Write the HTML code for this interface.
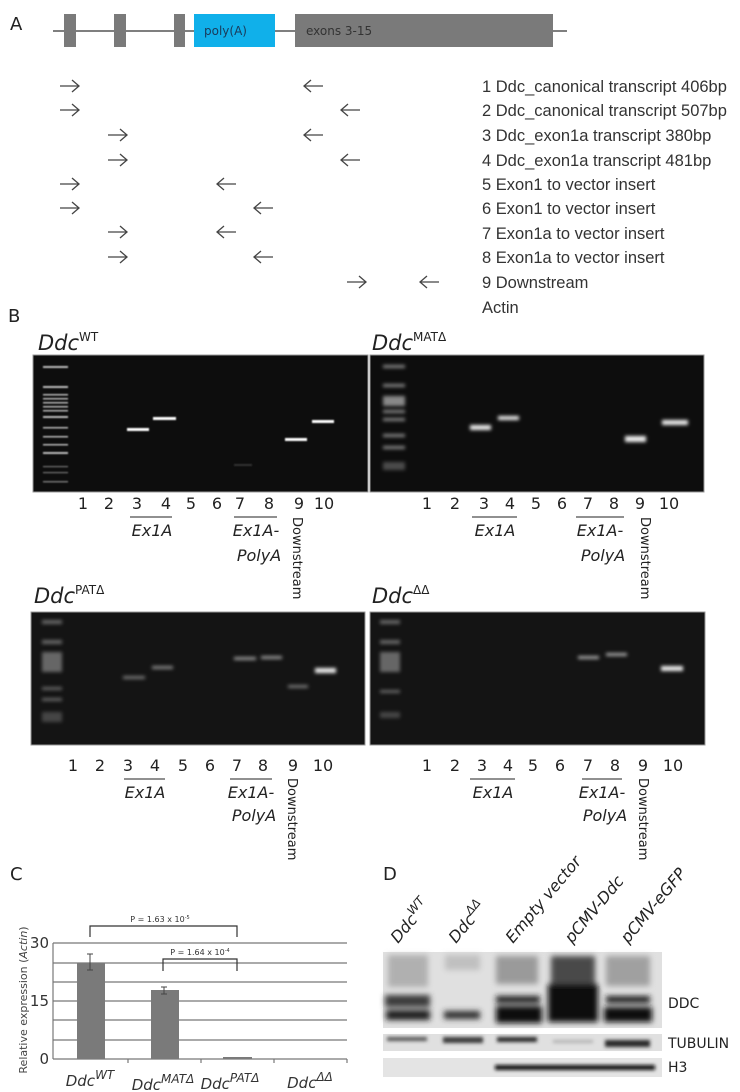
<!DOCTYPE html>
<html><head><meta charset="utf-8"><style>
html,body{margin:0;padding:0;background:#fff;}
svg{display:block;}
text{font-family:"DejaVu Sans","Liberation Sans",sans-serif;}
.lab{font-family:"Liberation Sans",sans-serif;font-size:16.5px;fill:#333;}
.num{font-size:16px;fill:#222;}
.it{font-style:italic;}
</style></head><body>
<svg width="740" height="1092" viewBox="0 0 740 1092" xmlns="http://www.w3.org/2000/svg">
<defs>
<filter id="b1" x="-20%" y="-100%" width="140%" height="300%"><feGaussianBlur stdDeviation="0.9"/></filter>
<filter id="b2" x="-20%" y="-100%" width="140%" height="300%"><feGaussianBlur stdDeviation="1.8"/></filter>
<filter id="b3" x="-30%" y="-60%" width="160%" height="220%"><feGaussianBlur stdDeviation="3"/></filter>
<g id="ar"><line x1="0" y1="0" x2="19" y2="0" stroke="#444" stroke-width="1.3"/><polyline points="12,-6 19,0 12,6" fill="none" stroke="#444" stroke-width="1.3"/></g>
<g id="al"><line x1="0" y1="0" x2="19" y2="0" stroke="#444" stroke-width="1.3"/><polyline points="7,-6 0,0 7,6" fill="none" stroke="#444" stroke-width="1.3"/></g>
</defs>

<!-- Panel A -->
<text x="10" y="30" font-family="Liberation Sans" font-size="18" fill="#222">A</text>
<line x1="53" y1="31" x2="567" y2="31" stroke="#333" stroke-width="1.3"/>
<rect x="64" y="14" width="12" height="33" fill="#7a7a7a"/>
<rect x="114" y="14" width="12" height="33" fill="#7a7a7a"/>
<rect x="174" y="14" width="11" height="33" fill="#7a7a7a"/>
<rect x="194" y="14" width="81" height="33" fill="#10b0ea"/>
<text x="204" y="35" font-family="Liberation Sans" font-size="12" fill="#1a3a5a">poly(A)</text>
<rect x="295" y="14" width="258" height="33" fill="#7a7a7a"/>
<text x="306" y="35" font-family="Liberation Sans" font-size="12" fill="#333">exons 3-15</text>

<use href="#ar" x="60" y="86"/><use href="#al" x="304" y="86"/>
<use href="#ar" x="60" y="110"/><use href="#al" x="341" y="110"/>
<use href="#ar" x="108" y="135"/><use href="#al" x="304" y="135"/>
<use href="#ar" x="108" y="160"/><use href="#al" x="341" y="160"/>
<use href="#ar" x="60" y="184"/><use href="#al" x="217" y="184"/>
<use href="#ar" x="60" y="208"/><use href="#al" x="254" y="208"/>
<use href="#ar" x="108" y="232"/><use href="#al" x="217" y="232"/>
<use href="#ar" x="108" y="257"/><use href="#al" x="254" y="257"/>
<use href="#ar" x="347" y="282"/><use href="#al" x="420" y="282"/>

<text class="lab" x="482" y="92">1 Ddc_canonical transcript 406bp</text>
<text class="lab" x="482" y="116">2 Ddc_canonical transcript 507bp</text>
<text class="lab" x="482" y="141">3 Ddc_exon1a transcript 380bp</text>
<text class="lab" x="482" y="166">4 Ddc_exon1a transcript 481bp</text>
<text class="lab" x="482" y="190">5 Exon1 to vector insert</text>
<text class="lab" x="482" y="214">6 Exon1 to vector insert</text>
<text class="lab" x="482" y="239">7 Exon1a to vector insert</text>
<text class="lab" x="482" y="263">8 Exon1a to vector insert</text>
<text class="lab" x="482" y="288">9 Downstream</text>
<text class="lab" x="482" y="313">Actin</text>
<text x="8" y="322" font-family="Liberation Sans" font-size="18" fill="#222">B</text>

<!-- Gel labels -->
<text x="38" y="350" font-family="Liberation Sans" font-size="21" font-style="italic" fill="#222">Ddc<tspan font-size="12" dy="-9" font-style="normal">WT</tspan></text>
<text x="372" y="350" font-family="Liberation Sans" font-size="21" font-style="italic" fill="#222">Ddc<tspan font-size="12" dy="-9" font-style="normal">MATΔ</tspan></text>
<text x="34" y="603" font-family="Liberation Sans" font-size="21" font-style="italic" fill="#222">Ddc<tspan font-size="12" dy="-9" font-style="normal">PATΔ</tspan></text>
<text x="372" y="603" font-family="Liberation Sans" font-size="21" font-style="italic" fill="#222">Ddc<tspan font-size="12" dy="-9" font-style="normal">ΔΔ</tspan></text>

<!-- Gel WT -->
<rect x="33" y="355" width="335" height="137" fill="#0d0d0d" stroke="#999" stroke-width="1"/>
<g fill="#bbb" filter="url(#b1)">
<rect x="43" y="366" width="25" height="2"/><rect x="43" y="386" width="25" height="2"/>
<rect x="43" y="394" width="25" height="1.5"/><rect x="43" y="398" width="25" height="1.5"/>
<rect x="43" y="402" width="25" height="1.5"/><rect x="43" y="406" width="25" height="1.5"/>
<rect x="43" y="410" width="25" height="1.5"/><rect x="43" y="416" width="25" height="2"/>
<rect x="43" y="427" width="25" height="1.5"/><rect x="43" y="436" width="25" height="1.5"/>
<rect x="43" y="444" width="25" height="1.5"/><rect x="43" y="452" width="25" height="2"/>
<rect x="43" y="466" width="25" height="1.2" opacity=".6"/><rect x="43" y="472" width="25" height="1.2" opacity=".6"/><rect x="43" y="481" width="25" height="1.5" opacity=".6"/>
</g>
<g fill="#fff" filter="url(#b1)">
<rect x="127" y="428" width="22" height="3"/>
<rect x="153" y="417" width="23" height="3"/>
<rect x="285" y="438" width="22" height="3"/>
<rect x="312" y="420" width="22" height="3"/>
</g>
<rect x="234" y="464" width="18" height="2" fill="#333" filter="url(#b1)"/>

<!-- Gel MAT -->
<rect x="370" y="355" width="334" height="137" fill="#0d0d0d" stroke="#999" stroke-width="1"/>
<g fill="#888" filter="url(#b2)">
<rect x="383" y="365" width="22" height="3"/><rect x="383" y="384" width="22" height="3"/>
<rect x="383" y="396" width="22" height="10"/><rect x="383" y="410" width="22" height="3"/>
<rect x="383" y="418" width="22" height="3"/><rect x="383" y="434" width="22" height="3"/>
<rect x="383" y="446" width="22" height="3"/><rect x="383" y="462" width="22" height="8" opacity=".5"/>
</g>
<g fill="#eee" filter="url(#b2)">
<rect x="470" y="425" width="21" height="5"/>
<rect x="498" y="416" width="21" height="4"/>
<rect x="625" y="436" width="21" height="6"/>
<rect x="662" y="420" width="26" height="5"/>
</g>

<!-- Gel PAT -->
<rect x="31" y="612" width="334" height="133" fill="#141414" stroke="#999" stroke-width="1"/>
<g fill="#666" filter="url(#b2)">
<rect x="42" y="620" width="20" height="4"/><rect x="42" y="640" width="20" height="4"/>
<rect x="42" y="652" width="20" height="20"/><rect x="42" y="687" width="20" height="3"/>
<rect x="42" y="698" width="20" height="3"/><rect x="42" y="712" width="20" height="10" opacity=".6"/>
</g>
<g filter="url(#b2)">
<rect x="123" y="676" width="22" height="3" fill="#777"/>
<rect x="152" y="666" width="21" height="3" fill="#888"/>
<rect x="234" y="657" width="22" height="3" fill="#999"/>
<rect x="261" y="656" width="21" height="3" fill="#999"/>
<rect x="288" y="685" width="20" height="3" fill="#777"/>
<rect x="315" y="668" width="21" height="5" fill="#eee"/>
</g>

<!-- Gel DD -->
<rect x="370" y="612" width="335" height="133" fill="#141414" stroke="#999" stroke-width="1"/>
<g fill="#666" filter="url(#b2)">
<rect x="380" y="620" width="20" height="4"/><rect x="380" y="640" width="20" height="4"/>
<rect x="380" y="652" width="20" height="20"/><rect x="380" y="690" width="20" height="3"/>
<rect x="380" y="712" width="20" height="6" opacity=".6"/>
</g>
<g filter="url(#b2)">
<rect x="578" y="656" width="21" height="3" fill="#aaa"/>
<rect x="606" y="653" width="21" height="3" fill="#aaa"/>
<rect x="661" y="666" width="22" height="5" fill="#eee"/>
</g>

<!-- Lane numbers -->
<g class="num" text-anchor="middle">
<text x="83" y="509">1</text><text x="109" y="509">2</text><text x="137" y="509">3</text><text x="166" y="509">4</text><text x="191" y="509">5</text><text x="217" y="509">6</text><text x="240" y="509">7</text><text x="269" y="509">8</text><text x="299" y="509">9</text><text x="324" y="509">10</text>
<text x="427" y="509">1</text><text x="455" y="509">2</text><text x="484" y="509">3</text><text x="510" y="509">4</text><text x="536" y="509">5</text><text x="562" y="509">6</text><text x="588" y="509">7</text><text x="614" y="509">8</text><text x="640" y="509">9</text><text x="669" y="509">10</text>
<text x="73" y="771">1</text><text x="100" y="771">2</text><text x="128" y="771">3</text><text x="155" y="771">4</text><text x="183" y="771">5</text><text x="210" y="771">6</text><text x="237" y="771">7</text><text x="263" y="771">8</text><text x="293" y="771">9</text><text x="323" y="771">10</text>
<text x="427" y="771">1</text><text x="455" y="771">2</text><text x="482" y="771">3</text><text x="508" y="771">4</text><text x="533" y="771">5</text><text x="560" y="771">6</text><text x="588" y="771">7</text><text x="615" y="771">8</text><text x="643" y="771">9</text><text x="673" y="771">10</text>
</g>
<g stroke="#222" stroke-width="1">
<line x1="130" y1="517" x2="172" y2="517"/><line x1="234" y1="517" x2="277" y2="517"/>
<line x1="472" y1="517" x2="517" y2="517"/><line x1="576" y1="517" x2="624" y2="517"/>
<line x1="124" y1="779" x2="165" y2="779"/><line x1="230" y1="779" x2="272" y2="779"/>
<line x1="470" y1="779" x2="515" y2="779"/><line x1="582" y1="779" x2="622" y2="779"/>
</g>
<g class="num it" text-anchor="middle">
<text x="152" y="536">Ex1A</text><text x="256" y="536">Ex1A-</text><text x="259" y="561">PolyA</text>
<text x="495" y="536">Ex1A</text><text x="600" y="536">Ex1A-</text><text x="603" y="561">PolyA</text>
<text x="145" y="798">Ex1A</text><text x="251" y="798">Ex1A-</text><text x="254" y="821">PolyA</text>
<text x="493" y="798">Ex1A</text><text x="602" y="798">Ex1A-</text><text x="605" y="821">PolyA</text>
</g>
<g font-size="13" fill="#222">
<text transform="translate(293,517) rotate(90)">Downstream</text>
<text transform="translate(641,517) rotate(90)">Downstream</text>
<text transform="translate(288,778) rotate(90)">Downstream</text>
<text transform="translate(639,778) rotate(90)">Downstream</text>
</g>

<!-- Panel C -->
<text x="10" y="880" font-family="Liberation Sans" font-size="18" fill="#222">C</text>
<g stroke="#777" stroke-width="1.2">
<line x1="53" y1="943" x2="347" y2="943"/><line x1="53" y1="963" x2="347" y2="963"/>
<line x1="53" y1="982" x2="347" y2="982"/><line x1="53" y1="1001" x2="347" y2="1001"/>
<line x1="53" y1="1020" x2="347" y2="1020"/><line x1="53" y1="1040" x2="347" y2="1040"/>
<line x1="53" y1="1059" x2="347" y2="1059"/>
<line x1="53" y1="943" x2="53" y2="1059"/>
<line x1="128" y1="1059" x2="128" y2="1063"/><line x1="201" y1="1059" x2="201" y2="1063"/><line x1="274" y1="1059" x2="274" y2="1063"/><line x1="347" y1="1059" x2="347" y2="1063"/>
</g>
<rect x="77" y="963" width="28" height="96" fill="#7a7a7a"/>
<rect x="151" y="990" width="28" height="69" fill="#7a7a7a"/>
<rect x="223" y="1057" width="29" height="2" fill="#7a7a7a"/>
<g stroke="#444" stroke-width="1">
<line x1="90" y1="954" x2="90" y2="970"/><line x1="87" y1="954" x2="93" y2="954"/><line x1="87" y1="970" x2="93" y2="970"/>
<line x1="164" y1="987" x2="164" y2="994"/><line x1="161" y1="987" x2="167" y2="987"/><line x1="161" y1="994" x2="167" y2="994"/>
</g>
<polyline points="90,937 90,926 237,926 237,937" fill="none" stroke="#333" stroke-width="1.2"/>
<polyline points="163,971 163,959 237,959 237,971" fill="none" stroke="#333" stroke-width="1.2"/>
<text x="160" y="922" text-anchor="middle" font-family="Liberation Sans" font-size="8" fill="#333">P = 1.63 x 10<tspan font-size="5" dy="-3">-5</tspan></text>
<text x="200" y="955" text-anchor="middle" font-family="Liberation Sans" font-size="8" fill="#333">P = 1.64 x 10<tspan font-size="5" dy="-3">-4</tspan></text>
<g font-family="Liberation Sans" font-size="15" fill="#333" text-anchor="end">
<text x="49" y="948">30</text><text x="49" y="1006">15</text><text x="49" y="1064">0</text>
</g>
<text transform="translate(27,1000) rotate(-90)" text-anchor="middle" font-family="Liberation Sans" font-size="11" fill="#444">Relative expression (<tspan font-style="italic">Actin</tspan>)</text>
<g font-family="Liberation Sans" font-size="15" font-style="italic" fill="#333" text-anchor="middle">
<text x="90" y="1086">Ddc<tspan font-size="12" dy="-7">WT</tspan></text>
<text x="163" y="1090">Ddc<tspan font-size="12" dy="-7">MATΔ</tspan></text>
<text x="230" y="1089">Ddc<tspan font-size="12" dy="-7">PATΔ</tspan></text>
<text x="310" y="1088">Ddc<tspan font-size="12" dy="-7">ΔΔ</tspan></text>
</g>

<!-- Panel D -->
<text x="383" y="880" font-family="Liberation Sans" font-size="18" fill="#222">D</text>
<g font-family="Liberation Sans" font-size="16" font-style="italic" fill="#222">
<text transform="translate(398,944) rotate(-50)">Ddc<tspan font-size="12" dy="-7">WT</tspan></text>
<text transform="translate(456,944) rotate(-50)">Ddc<tspan font-size="12" dy="-7">ΔΔ</tspan></text>
<text transform="translate(513,944) rotate(-50)">Empty vector</text>
<text transform="translate(572,944) rotate(-50)">pCMV-Ddc</text>
<text transform="translate(628,944) rotate(-50)">pCMV-eGFP</text>
</g>
<rect x="383" y="952" width="279" height="76" fill="#e0e0e0"/>
<g filter="url(#b3)">
<rect x="388" y="955" width="40" height="32" fill="#b0b0b0"/>
<rect x="445" y="955" width="35" height="15" fill="#c0c0c0"/>
<rect x="496" y="956" width="42" height="28" fill="#9a9a9a"/>
<rect x="551" y="956" width="44" height="30" fill="#4a4a4a"/>
<rect x="606" y="956" width="44" height="30" fill="#a0a0a0"/>
<rect x="385" y="995" width="45" height="12" fill="#3a3a3a"/>
<rect x="496" y="996" width="44" height="7" fill="#1a1a1a"/>
<rect x="548" y="984" width="50" height="30" fill="#0a0a0a"/>
<rect x="606" y="996" width="44" height="7" fill="#1a1a1a"/>
<rect x="386" y="1010" width="44" height="10" fill="#1e1e1e"/>
<rect x="444" y="1011" width="36" height="8" fill="#2e2e2e"/>
<rect x="496" y="1006" width="46" height="17" fill="#0a0a0a"/>
<rect x="548" y="1008" width="50" height="14" fill="#0e0e0e"/>
<rect x="604" y="1007" width="48" height="15" fill="#0a0a0a"/>
</g>
<rect x="383" y="1034" width="279" height="17" fill="#e0e0e0"/>
<g filter="url(#b2)">
<rect x="387" y="1037" width="40" height="4" fill="#555"/>
<rect x="443" y="1037" width="40" height="6" fill="#3a3a3a"/>
<rect x="497" y="1037" width="40" height="5" fill="#2a2a2a"/>
<rect x="553" y="1040" width="40" height="3" fill="#b0b0b0"/>
<rect x="605" y="1040" width="45" height="7" fill="#2a2a2a"/>
</g>
<rect x="383" y="1058" width="279" height="19" fill="#e4e4e4"/>
<rect x="495" y="1065" width="160" height="5" fill="#111" filter="url(#b2)"/>
<g font-family="Liberation Sans" font-size="14" fill="#222">
<text x="668" y="1008">DDC</text><text x="668" y="1048">TUBULIN</text><text x="668" y="1072">H3</text>
</g>
</svg>
</body></html>
